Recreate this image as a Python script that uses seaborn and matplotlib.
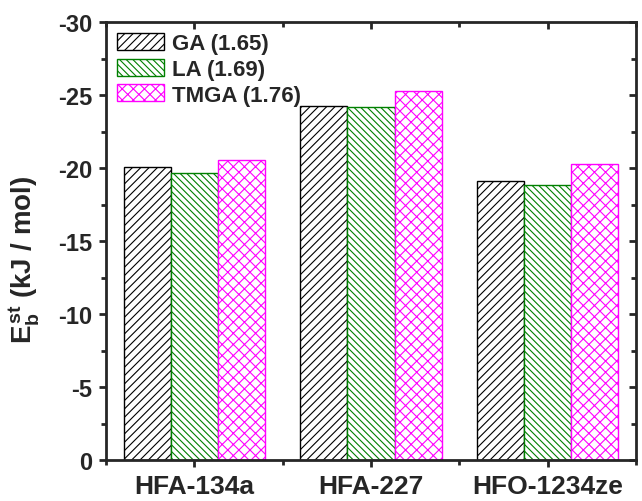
import pandas as pd
import seaborn as sns
import matplotlib.pyplot as plt
from matplotlib.ticker import MultipleLocator, FixedLocator

# dados
refrigerants = ["HFA-134a", "HFA-227", "HFO-1234ze"]
methods = ["GA", "LA", "TMGA"]
legend_labels = ["GA (1.65)", "LA (1.69)", "TMGA (1.76)"]
ga = [-20.05, -24.27, -19.13]
la = [-19.66, -24.20, -18.86]
tmga = [-20.55, -25.30, -20.27]

edge_colors = ["black", "#008000", "#ff00ff"]
hatches = ["////", "\\\\\\\\\\", "xxx"]

dataset = pd.DataFrame({
    "refrigerant": refrigerants * 3,
    "method": [m for m in methods for _ in refrigerants],
    "energy": ga + la + tmga,
})

sns.set_style("ticks")
plt.rcParams["font.family"] = ["Liberation Sans", "DejaVu Sans"]
plt.rcParams["font.weight"] = "bold"
plt.rcParams["axes.unicode_minus"] = False
plt.rcParams["mathtext.fontset"] = "custom"
plt.rcParams["mathtext.rm"] = "Liberation Sans:bold"
plt.rcParams["mathtext.it"] = "Liberation Sans:bold"
plt.rcParams["mathtext.bf"] = "Liberation Sans:bold"
plt.rcParams["hatch.linewidth"] = 0.8

fig = plt.figure(figsize=(6.42, 5.02), dpi=100)
ax = fig.add_axes([106 / 642, 1 - 461 / 502, 530 / 642, 438 / 502])

sns.barplot(data=dataset, x="refrigerant", y="energy", hue="method",
            hue_order=methods, order=refrigerants, palette=["white"] * 3,
            width=0.8, legend=False, ax=ax)

# hachuras e cores das bordas por metodo
for cont, col, h in zip(ax.containers, edge_colors, hatches):
    for bar in cont:
        bar.set_facecolor("white")
        bar.set_edgecolor(col)
        bar.set_hatch(h)
        bar.set_linewidth(1.0)

ax.set_xlim(-0.5, 2.5)
ax.set_ylim(0, -30)
ax.yaxis.set_major_locator(MultipleLocator(5))
ax.yaxis.set_minor_locator(MultipleLocator(2.5))
ax.xaxis.set_minor_locator(FixedLocator([-0.5, 0.5, 1.5, 2.5]))

for s in ax.spines.values():
    s.set_linewidth(2)
    s.set_visible(True)

ax.tick_params(axis="y", which="major", direction="out", length=5, width=2,
               labelsize=17, pad=5, right=True)
ax.tick_params(axis="y", which="minor", direction="out", length=3.5, width=2, right=True)
ax.tick_params(axis="x", which="major", direction="out", length=5, width=2,
               labelsize=19, pad=5, top=True)
ax.tick_params(axis="x", which="minor", direction="out", length=3.5, width=2, top=True)
# ticks internos nos eixos de cima e da direita
for t in ax.yaxis.get_major_ticks() + ax.yaxis.get_minor_ticks():
    t.tick2line.set_marker(0)
for t in ax.xaxis.get_major_ticks() + ax.xaxis.get_minor_ticks():
    t.tick2line.set_marker(3)

for lab in ax.get_xticklabels() + ax.get_yticklabels():
    lab.set_fontweight("bold")

ax.set_xlabel("")
ax.set_ylabel(r"$E_b^{st}$ (kJ / mol)", fontsize=20, fontweight="bold")
ax.yaxis.set_label_coords(-0.12, 0.46)

leg = ax.legend(handles=ax.containers, labels=legend_labels, loc="upper left",
                frameon=False, handlelength=2.1, handleheight=0.8,
                handletextpad=0.35, labelspacing=0.2, borderaxespad=0.3, borderpad=0.2,
                prop={"weight": "bold", "size": 16})
for t in leg.get_texts():
    t.set_fontweight("bold")

plt.savefig("out.png", dpi=100)
